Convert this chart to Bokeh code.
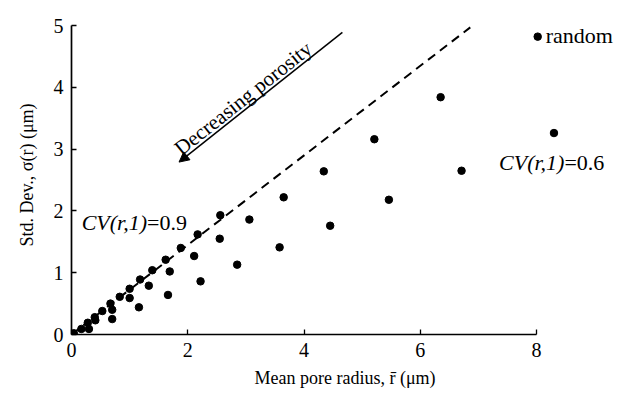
import math
from bokeh.plotting import figure
from bokeh.models import Range1d, FixedTicker, Label, Arrow, NormalHead
from bokeh.embed import file_html
from bokeh.resources import INLINE

# ---- data ----
upper_x = [0.04, 0.17, 0.28, 0.40, 0.53, 0.67, 0.83, 1.00, 1.18, 1.39, 1.62, 1.88, 2.17, 2.56]
upper_y = [0.02, 0.09, 0.19, 0.28, 0.38, 0.50, 0.61, 0.74, 0.89, 1.04, 1.21, 1.40, 1.62, 1.93]
middle_x = [0.30, 0.41, 0.70, 1.00, 1.33, 1.69, 2.11, 2.55, 3.06, 3.65, 4.34, 5.21, 6.35]
middle_y = [0.09, 0.23, 0.40, 0.59, 0.79, 1.02, 1.27, 1.55, 1.86, 2.22, 2.64, 3.16, 3.84]
lower_x = [0.70, 1.16, 1.66, 2.22, 2.85, 3.58, 4.45, 5.46, 6.71, 8.30]
lower_y = [0.25, 0.44, 0.64, 0.86, 1.13, 1.41, 1.76, 2.18, 2.65, 3.26]
legend_x = [8.02]
legend_y = [4.82]
dashed_x = [0.0, 6.86]
dashed_y = [0.0, 4.97]
arrow_from = (4.66, 4.89)
arrow_to = (1.85, 2.79)
x_ticks = [0, 2, 4, 6, 8]
y_ticks = [0, 1, 2, 3, 4, 5]

FONT = "Liberation Serif"

W, H = 620, 396
LEFT, RIGHT, TOP, BOTTOM = 71, 2, 15, 62
X_END = 9.41
Y_END = 5.162

p = figure(width=W, height=H, output_backend="svg", toolbar_location=None,
           x_range=Range1d(0, X_END), y_range=Range1d(0, Y_END),
           min_border_left=LEFT, min_border_right=RIGHT, min_border_top=TOP,
           min_border_bottom=BOTTOM)
p.grid.visible = False
p.outline_line_color = None
p.background_fill_color = "white"
p.border_fill_color = "white"

for ax in (p.xaxis[0], p.yaxis[0]):
    ax.axis_line_width = 1.7
    ax.axis_line_color = "black"
    ax.major_tick_in = 5
    ax.major_tick_out = 0
    ax.major_tick_line_width = 1.3
    ax.minor_tick_in = 0
    ax.minor_tick_out = 0
    ax.major_label_text_font = FONT
    ax.major_label_text_font_size = "20px"
    ax.major_label_text_color = "black"
    ax.axis_label_text_font = FONT
    ax.axis_label_text_font_style = "normal"
    ax.axis_label_text_color = "black"
    ax.axis_label_text_font_size = "18px"

p.xaxis[0].bounds = (0, 8)
p.yaxis[0].bounds = (0, 5)
p.xaxis[0].ticker = FixedTicker(ticks=x_ticks)
p.yaxis[0].ticker = FixedTicker(ticks=y_ticks)
p.xaxis[0].major_label_standoff = 8
p.yaxis[0].major_label_standoff = 8
p.xaxis[0].axis_label = "Mean pore radius, r\u0304 (\u03bcm)"
p.yaxis[0].axis_label = "Std. Dev., \u03c3(r) (\u03bcm)"
p.xaxis[0].axis_label_standoff = 8
p.yaxis[0].axis_label_standoff = 14

# dashed line
p.line(dashed_x, dashed_y, line_color="black", line_width=2, line_dash="9 6")

# points
for xs, ys in ((upper_x, upper_y), (middle_x, middle_y), (lower_x, lower_y), (legend_x, legend_y)):
    p.scatter(xs, ys, size=7.5, marker="circle", fill_color="black", line_color="black")

# legend text
p.add_layout(Label(x=legend_x[0], y=legend_y[0], x_offset=8, y_offset=1, text="random",
                   text_font=FONT, text_font_size="22px", text_baseline="middle",
                   text_color="black"))

# CV labels (italic part + normal part)
def cv_label(x, y, val):
    p.add_layout(Label(x=x, y=y, text="CV(r,1)", text_font=FONT, text_font_size="22px",
                       text_font_style="italic", text_align="right", text_baseline="middle",
                       text_color="black"))
    p.add_layout(Label(x=x, y=y, text="=" + val, text_font=FONT, text_font_size="22px",
                       text_align="left", text_baseline="middle", text_color="black"))

cv_label(1.30, 1.82, "0.9")
cv_label(8.48, 2.79, "0.6")

# arrow
p.add_layout(Arrow(end=NormalHead(size=10, fill_color="black", line_color="black", line_width=1),
                   x_start=arrow_from[0], y_start=arrow_from[1],
                   x_end=arrow_to[0], y_end=arrow_to[1],
                   line_color="black", line_width=1.5))

px_x = (W - LEFT - RIGHT) / X_END
px_y = (H - TOP - BOTTOM) / Y_END
theta = math.atan2((arrow_from[1] - arrow_to[1]) * px_y, (arrow_from[0] - arrow_to[0]) * px_x)
f = 0.43
tx = arrow_to[0] + f * (arrow_from[0] - arrow_to[0])
ty = arrow_to[1] + f * (arrow_from[1] - arrow_to[1])
k = 10
p.add_layout(Label(x=tx, y=ty, text="Decreasing porosity", angle=theta, angle_units="rad",
                   x_offset=-k * math.sin(theta), y_offset=k * math.cos(theta),
                   text_font=FONT, text_font_size="21px", text_align="center",
                   text_baseline="alphabetic", text_color="black"))

open("out.html", "w").write(file_html(p, INLINE))
